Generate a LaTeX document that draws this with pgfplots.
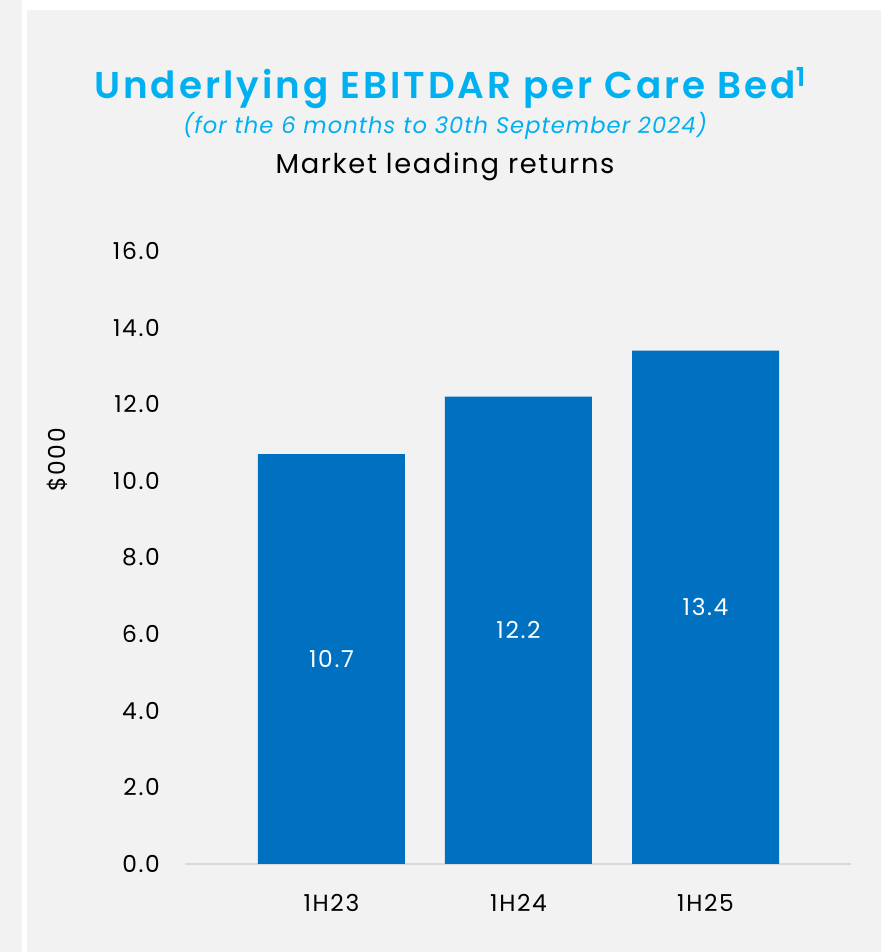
\documentclass[border=0pt]{standalone}
\usepackage{pgfplots}
\pgfplotsset{compat=1.18}
\usepackage{fontspec}
\setmainfont{Poppins}[LetterSpace=7]
\newfontfamily\titlefont{Poppins}[UprightFont=*-SemiBold, LetterSpace=8]
\newfontfamily\subfont{Poppins}[LetterSpace=4.5]
\newfontfamily\mkfont{Poppins}[LetterSpace=6]
\definecolor{bg}{HTML}{F2F2F2}
\definecolor{barblue}{HTML}{0070C0}
\definecolor{titleblue}{HTML}{00B0F0}
\definecolor{axisgray}{HTML}{D9D9D9}
\begin{document}
\begin{tikzpicture}[x=1pt,y=1pt]
\useasboundingbox (0,0) rectangle (670.5,714);
\fill[white] (0,0) rectangle (670.5,714);
\fill[bg] (0,0) rectangle (16.5,714);
\fill[bg] (20.25,0) rectangle (660.75,706.5);
\node[titleblue, font=\titlefont\fontsize{28}{32}\selectfont, inner sep=0] at (337.5,648) {Underlying EBITDAR per Care Bed\textsuperscript{1}};
\node[titleblue, font=\subfont\itshape\fontsize{17}{21}\selectfont, inner sep=0] at (333.75,619.5) {(for the 6 months to 30th September 2024)};
\node[black, font=\mkfont\fontsize{20.5}{24}\selectfont, inner sep=0] at (333.75,588.75) {Market leading returns};
\begin{axis}[
  at={(138.75pt,66pt)}, anchor=south west,
  scale only axis, width=499.5pt, height=459.75pt,
  xmin=-0.783, xmax=2.778, ymin=0, ymax=16,
  clip=false,
  xtick={0,1,2}, xticklabels={1H23,1H24,1H25},
  ytick={0,2,...,16},
  major tick length=0pt,
  axis x line*=bottom, axis y line*=left,
  x axis line style={draw=axisgray, line width=1.5pt, -},
  y axis line style={draw=none},
  /pgf/number format/.cd, fixed, fixed zerofill, precision=1, assume math mode=true,
  /pgfplots/.cd,
  yticklabel style={anchor=east, inner sep=0pt, xshift=-18.75pt, font=\fontsize{17.5}{20}\selectfont},
  xticklabel style={anchor=center, inner sep=0pt, yshift=-29.25pt, font=\fontsize{17.5}{20}\selectfont},
  ylabel={\$000},
  ylabel style={at={(axis description cs:-0.192,0.659)}, anchor=center, font=\fontsize{17.5}{20}\selectfont},
]
\addplot[ybar, fill=barblue, draw=none, bar width=110.25pt,
  visualization depends on={y \as \rawy},
  nodes near coords,
  every node near coord/.append style={white, anchor=center, font=\fontsize{17.5}{20}\selectfont, shift={(axis direction cs:0,-\rawy/2)}}
] coordinates {(0,10.7) (1,12.2) (2,13.4)};
\end{axis}
\end{tikzpicture}
\end{document}
